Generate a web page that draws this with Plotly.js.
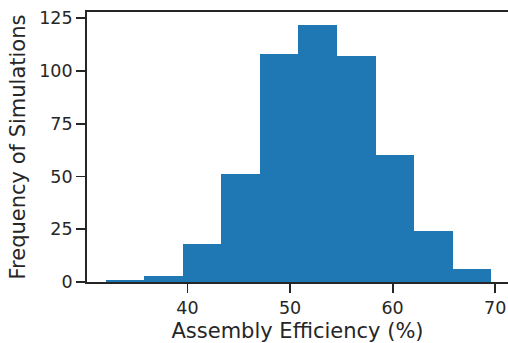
<!DOCTYPE html>
<html>
<head>
<meta charset="utf-8">
<script src="https://cdn.plot.ly/plotly-3.0.1.min.js"></script>
<style>html,body{margin:0;padding:0;background:#fff}#chart{width:508px;height:343px}</style>
</head>
<body>
<div id="chart"></div>
<script>
const binEdges = [32.03, 35.79, 39.54, 43.30, 47.06, 50.81, 54.57, 58.33, 62.08, 65.84, 69.60];
const counts = [1, 3, 18, 51, 108, 122, 107, 60, 24, 6];
const xTicks = [40, 50, 60, 70];
const yTicks = [0, 25, 50, 75, 100, 125];

const centers = counts.map((c, i) => (binEdges[i] + binEdges[i + 1]) / 2);
const widths = counts.map((c, i) => binEdges[i + 1] - binEdges[i]);

const ink = '#262626';
const font = {family: 'DejaVu Sans', size: 17.5, color: ink};

Plotly.newPlot('chart', [{
  type: 'bar',
  x: centers,
  y: counts,
  width: widths,
  marker: {color: '#1f77b4', line: {width: 0}},
  hoverinfo: 'x+y'
}], {
  width: 508, height: 343,
  margin: {l: 87, r: 0, t: 12, b: 61, pad: 0},
  paper_bgcolor: '#fff', plot_bgcolor: '#fff',
  bargap: 0,
  showlegend: false,
  font: font,
  xaxis: {
    range: [30.2, 71.25],
    tickvals: xTicks,
    ticktext: xTicks.map(String),
    ticks: 'outside', ticklen: 9, tickwidth: 1.9, tickcolor: ink,
    showline: true, linecolor: ink, linewidth: 1.9, mirror: true,
    showgrid: false, zeroline: false,
    tickfont: font,
    title: {text: 'Assembly Efficiency (%)', font: {family: 'DejaVu Sans', size: 21, color: ink}, standoff: 6}
  },
  yaxis: {
    range: [0, 128],
    tickvals: yTicks,
    ticktext: yTicks.map(String),
    ticks: 'outside', ticklen: 9, tickwidth: 1.9, tickcolor: ink,
    showline: true, linecolor: ink, linewidth: 1.9, mirror: false,
    showgrid: false, zeroline: false,
    tickfont: font,
    title: {text: 'Frequency of Simulations', font: {family: 'DejaVu Sans', size: 21, color: ink}, standoff: 8}
  }
}, {displayModeBar: false, staticPlot: true});
</script>
</body>
</html>
